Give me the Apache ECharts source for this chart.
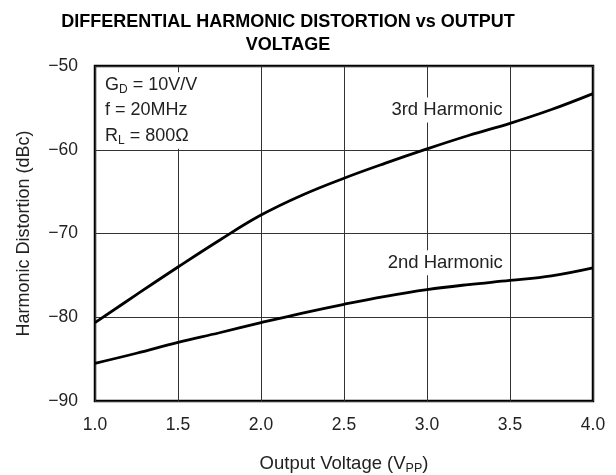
<!DOCTYPE html>
<html><head><meta charset="utf-8">
<script src="https://cdn.jsdelivr.net/npm/echarts@6/dist/echarts.min.js"></script>
<style>html,body{margin:0;padding:0;background:#fff}#c{width:616px;height:475px}</style>
</head><body><div id="c"></div>
<script>
const xValues = [1.0, 1.25, 1.5, 1.75, 2.0, 2.25, 2.5, 2.75, 3.0, 3.25, 3.5, 3.75, 4.0];
const third = [-80.65, -77.3, -74.0, -70.8, -67.8, -65.4, -63.4, -61.6, -59.9, -58.3, -56.85, -55.2, -53.3];
const second = [-85.5, -84.3, -83.0, -81.85, -80.65, -79.5, -78.45, -77.5, -76.7, -76.1, -75.6, -75.05, -74.1];
const xTicks = ['1.0','1.5','2.0','2.5','3.0','3.5','4.0'];
const titleText = 'DIFFERENTIAL HARMONIC DISTORTION vs OUTPUT\nVOLTAGE';
const FONT = '"Liberation Sans", Arial, sans-serif';

const chart = echarts.init(document.getElementById('c'), null, {renderer:'canvas'});
const pair = a => xValues.map((x,i)=>[x,a[i]]);
chart.setOption({
  animation:false,
  title:{text:titleText,left:283,top:6,textAlign:'center',
    textStyle:{fontFamily:FONT,fontWeight:'bold',fontSize:18,color:'#000',lineHeight:23}},
  grid:{left:95,right:23,top:66,bottom:74,show:true,borderColor:'#000',borderWidth:2.5,backgroundColor:'transparent',
    outerBoundsMode:'none',containLabel:false},
  xAxis:{type:'value',min:1,max:4,interval:0.5,
    name:'Output Voltage (V{s|PP})',nameLocation:'middle',nameGap:52,
    nameTextStyle:{fontFamily:FONT,fontSize:18.5,color:'#222',rich:{s:{fontFamily:FONT,fontSize:12.5,padding:[9,0,0,0],color:'#222'}}},
    axisLine:{show:false},axisTick:{show:false},
    axisLabel:{fontFamily:FONT,fontSize:17.5,color:'#222',margin:15,formatter:v=>xTicks[Math.round((v-1)/0.5)]},
    splitLine:{show:true,lineStyle:{color:'#333',width:1}}},
  yAxis:{type:'value',min:-90,max:-50,interval:10,
    name:'Harmonic Distortion (dBc)',nameLocation:'middle',nameGap:62,
    nameTextStyle:{fontFamily:FONT,fontSize:18,color:'#222'},
    axisLine:{show:false},axisTick:{show:false},
    axisLabel:{fontFamily:FONT,fontSize:17.5,color:'#222',margin:17,formatter:v=>String(v).replace('-','\u2212')},
    splitLine:{show:true,lineStyle:{color:'#333',width:1}}},
  series:[
    {type:'line',data:pair(third),smooth:0.4,showSymbol:false,lineStyle:{color:'#000',width:2.8},z:3,
     markPoint:{z:1,symbolSize:0,data:[
       {coord:[3.12,-55.25],label:{show:true,formatter:'3rd Harmonic',fontFamily:FONT,fontSize:18.5,color:'#222',backgroundColor:'#fff',padding:[3,2,3,2]}},
       {coord:[1.048,-55.3],label:{show:true,align:'left',verticalAlign:'middle',
         formatter:'{n|G}{s|D}{n| = 10V/V}\n{n|f = 20MHz}\n{n|R}{s|L}{n| = 800\u03A9}',
         backgroundColor:'#fff',padding:[0,4,0,2],
         rich:{n:{fontFamily:FONT,fontSize:18,color:'#222',lineHeight:25.5},
               s:{fontFamily:FONT,fontSize:12,color:'#222',lineHeight:25.5,padding:[10,0,0,0]}}}}
     ]}},
    {type:'line',data:pair(second),smooth:0.4,showSymbol:false,lineStyle:{color:'#000',width:2.8},z:3,
     markPoint:{z:1,symbolSize:0,data:[
       {coord:[3.11,-73.5],label:{show:true,formatter:'2nd Harmonic',fontFamily:FONT,fontSize:18.5,color:'#222',backgroundColor:'#fff',padding:[3,2,3,2]}}
     ]}}
  ]
});
</script></body></html>
